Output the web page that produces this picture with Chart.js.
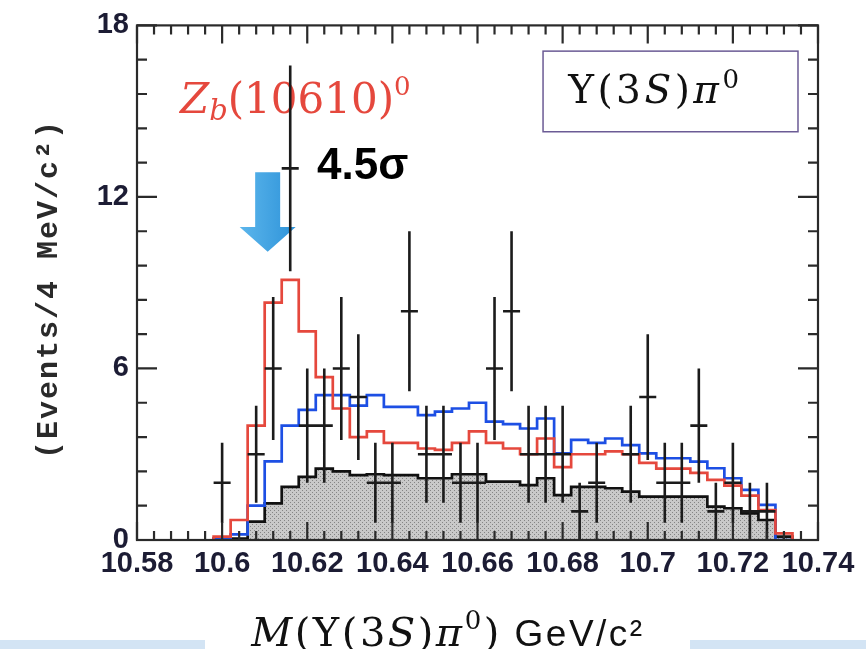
<!DOCTYPE html>
<html>
<head>
<meta charset="utf-8">
<script src="https://cdn.jsdelivr.net/npm/chart.js@4/dist/chart.umd.min.js"></script>
<style>
  html, body { margin: 0; padding: 0; background: #fff; }
  #wrap { position: relative; width: 866px; height: 649px; overflow: hidden; background: #fff; }
  .band { position: absolute; bottom: 0; height: 9px; background: #d3e4f4; }
  #myChart { position: absolute; left: 0; top: 0; }
</style>
</head>
<body>
<div id="wrap">
  <div class="band" style="left:0;width:205px"></div>
  <div class="band" style="left:690px;width:176px"></div>
  <canvas id="myChart" width="866" height="649"></canvas>
</div>
<script>
// bins of 4 MeV, centres in GeV
const binCenters = [10.600, 10.604, 10.608, 10.612, 10.616, 10.620, 10.624, 10.628, 10.632, 10.636,
                    10.640, 10.644, 10.648, 10.652, 10.656, 10.660, 10.664, 10.668, 10.672, 10.676,
                    10.680, 10.684, 10.688, 10.692, 10.696, 10.700, 10.704, 10.708, 10.712, 10.716,
                    10.720, 10.724, 10.728, 10.732];
const binWidth = 0.004;

// data points (null = empty bin) and their errors
const dataCounts = [2, null, 3, 6, 13, 4, 4, 6, 5, 2,
                    2, 8, 3, 3, 2, 2, 6, 8, 3, 3,
                    3, 1, 2, null, 3, 5, 2, 2, 4, 1,
                    2, 1, 1, null];
const dataErrors = [1.4, 0, 1.7, 2.5, 3.6, 2.0, 2.0, 2.5, 2.2, 1.4,
                    1.4, 2.8, 1.7, 1.7, 1.4, 1.4, 2.5, 2.8, 1.7, 1.7,
                    1.7, 1.0, 1.4, 0, 1.7, 2.2, 1.4, 1.4, 2.0, 1.0,
                    1.4, 1.0, 1.0, 0];

// red: fit with Zb(10610)
const signalFit = [0.12, 0.7, 4.0, 8.3, 9.1, 7.3, 5.7, 4.6, 3.6, 3.8,
                   3.4, 3.4, 3.2, 3.15, 3.4, 3.8, 3.4, 3.2, 3.0, 3.55,
                   2.55, 3.0, 3.0, 3.1, 3.0, 2.7, 2.5, 2.5, 2.35, 2.1,
                   1.9, 1.55, 1.05, 0.23];
// blue: other fit
const otherFit = [0.03, 0.2, 1.2, 2.75, 4.0, 4.55, 5.07, 5.07, 4.7, 5.07,
                  4.66, 4.66, 4.37, 4.49, 4.6, 4.8, 4.14, 4.05, 3.9, 4.25,
                  3.03, 3.5, 3.4, 3.55, 3.32, 3.03, 2.86, 2.86, 2.74, 2.51,
                  2.16, 1.75, 1.23, 0];
// black hatched: background
const background = [0.05, 0.05, 0.64, 1.28, 1.86, 2.21, 2.5, 2.4, 2.27, 2.3,
                    2.27, 2.27, 2.16, 2.16, 2.3, 2.3, 2.04, 2.04, 1.92, 2.16,
                    1.57, 1.86, 1.86, 1.81, 1.69, 1.52, 1.52, 1.52, 1.52, 1.17,
                    1.11, 0.93, 0.70, 0.12];

const xTickValues = [10.58, 10.60, 10.62, 10.64, 10.66, 10.68, 10.70, 10.72, 10.74];
const yTickValues = [0, 6, 12, 18];

function histPoints(values) {
  const half = binWidth / 2;
  const pts = [{x: binCenters[0] - half, y: 0}];
  values.forEach((v, i) => pts.push({x: binCenters[i] - half, y: v}));
  pts.push({x: binCenters[binCenters.length - 1] + half, y: 0});
  return pts;
}

// grey cross-hatch for the background histogram
const pc = document.createElement('canvas');
pc.width = 4; pc.height = 4;
const pctx = pc.getContext('2d');
pctx.fillStyle = '#c9c9c9'; pctx.fillRect(0, 0, 4, 4);
pctx.fillStyle = '#858585';
pctx.fillRect(0, 0, 1, 1); pctx.fillRect(2, 2, 1, 1);
const canvas = document.getElementById('myChart');
const hatch = canvas.getContext('2d').createPattern(pc, 'repeat');

function runsWidth(ctx, runs, spacing) {
  let w = 0;
  ctx.save();
  if ('letterSpacing' in ctx) ctx.letterSpacing = spacing + 'px';
  runs.forEach(r => { ctx.font = r.font; w += ctx.measureText(r.text).width; });
  ctx.restore();
  return w;
}

function drawRuns(ctx, runs, x, y, color, spacing) {
  ctx.save();
  ctx.fillStyle = color;
  ctx.textAlign = 'left';
  ctx.textBaseline = 'alphabetic';
  if ('letterSpacing' in ctx) ctx.letterSpacing = spacing + 'px';
  let cx = x;
  runs.forEach(r => {
    ctx.font = r.font;
    ctx.fillText(r.text, cx, y + (r.dy || 0));
    cx += ctx.measureText(r.text).width;
  });
  ctx.restore();
}

const SERIF = '"DejaVu Serif", "Liberation Serif", serif';

const decor = {
  id: 'decor',
  beforeDatasetsDraw(chart) {
    const {ctx, scales: {x, y}} = chart;

    // Zb(10610)0 label
    drawRuns(ctx, [
      {text: 'Z', font: 'italic 42px ' + SERIF},
      {text: 'b', font: 'italic 29px ' + SERIF, dy: 7},
      {text: '(10610)', font: '42px ' + SERIF},
      {text: '0', font: '26px ' + SERIF, dy: -18}
    ], x.getPixelForValue(10.5901), y.getPixelForValue(14.94), '#e5483d', 0);

    drawRuns(ctx, [{text: '4.5σ', font: 'bold 44px "Liberation Sans", Arial, sans-serif'}],
      x.getPixelForValue(10.6223), y.getPixelForValue(12.61), '#000', 0);

    // blue arrow
    const ax = x.getPixelForValue(10.6107);
    const yTop = y.getPixelForValue(12.86), yHead = y.getPixelForValue(10.95), yTip = y.getPixelForValue(10.08);
    const g = ctx.createLinearGradient(ax - 28, 0, ax + 28, 0);
    g.addColorStop(0, '#5cb6ec');
    g.addColorStop(1, '#2e93d9');
    ctx.save();
    ctx.fillStyle = g;
    ctx.beginPath();
    ctx.moveTo(ax - 12.5, yTop); ctx.lineTo(ax + 12.5, yTop);
    ctx.lineTo(ax + 12.5, yHead); ctx.lineTo(ax + 28, yHead);
    ctx.lineTo(ax, yTip);
    ctx.lineTo(ax - 28, yHead); ctx.lineTo(ax - 12.5, yHead);
    ctx.closePath();
    ctx.fill();
    ctx.restore();

    // legend box
    const bx0 = x.getPixelForValue(10.6754), bx1 = x.getPixelForValue(10.7353);
    const by0 = y.getPixelForValue(17.10), by1 = y.getPixelForValue(14.28);
    ctx.save();
    ctx.strokeStyle = '#6b5b95';
    ctx.lineWidth = 1.5;
    ctx.strokeRect(bx0, by0, bx1 - bx0, by1 - by0);
    ctx.restore();
    drawRuns(ctx, [
      {text: 'Υ(3', font: '39px ' + SERIF},
      {text: 'S', font: 'italic 39px ' + SERIF},
      {text: ')', font: '39px ' + SERIF},
      {text: 'π', font: 'italic 39px ' + SERIF},
      {text: '0', font: '26px ' + SERIF, dy: -15}
    ], x.getPixelForValue(10.6813), y.getPixelForValue(15.29), '#111', 3.5);
  },
  afterDatasetsDraw(chart) {
    const {ctx, chartArea: a, scales: {x, y}} = chart;
    const meta = chart.getDatasetMeta(3);
    const half = binWidth / 2;

    // error bars of the data points
    ctx.save();
    ctx.strokeStyle = '#1b1b1b';
    ctx.lineWidth = 2.6;
    ctx.beginPath();
    meta.data.forEach((pt, i) => {
      const raw = chart.data.datasets[3].data[i];
      const px = pt.x, py = pt.y;
      ctx.moveTo(px, y.getPixelForValue(raw.y - raw.e));
      ctx.lineTo(px, y.getPixelForValue(raw.y + raw.e));
      ctx.moveTo(x.getPixelForValue(raw.x - half), py);
      ctx.lineTo(x.getPixelForValue(raw.x + half), py);
    });
    ctx.stroke();
    ctx.restore();

    // frame with inward ticks on all four sides
    ctx.save();
    ctx.strokeStyle = '#2a2a2a';
    ctx.lineWidth = 2.2;
    ctx.strokeRect(a.left, a.top, a.right - a.left, a.bottom - a.top);
    ctx.beginPath();
    for (let k = 0; k <= 40; k++) {
      const px = x.getPixelForValue(10.58 + k * 0.004);
      const len = k % 5 === 0 ? 18 : 9;
      ctx.moveTo(px, a.bottom); ctx.lineTo(px, a.bottom - len);
      ctx.moveTo(px, a.top); ctx.lineTo(px, a.top + len);
    }
    for (let k = 0; k <= 15; k++) {
      const py = y.getPixelForValue(k * 1.2);
      const len = k % 5 === 0 ? 20 : 10;
      ctx.moveTo(a.left, py); ctx.lineTo(a.left + len, py);
      ctx.moveTo(a.right, py); ctx.lineTo(a.right - len, py);
    }
    ctx.stroke();
    ctx.restore();
  },
  afterDraw(chart) {
    const {ctx} = chart;
    // x axis title
    const runs = [
      {text: 'M', font: 'italic 40px ' + SERIF},
      {text: '(Υ(3', font: '40px ' + SERIF},
      {text: 'S', font: 'italic 40px ' + SERIF},
      {text: ')', font: '40px ' + SERIF},
      {text: 'π', font: 'italic 40px ' + SERIF},
      {text: '0', font: '26px ' + SERIF, dy: -17},
      {text: ')', font: '40px ' + SERIF},
      {text: ' GeV/c²', font: '37px "Liberation Sans", Arial, sans-serif'}
    ];
    const w = runsWidth(ctx, runs, 2.5);
    drawRuns(ctx, runs, 448 - w / 2, 646, '#111', 2.5);

    // y axis title
    ctx.save();
    ctx.translate(49, 289);
    ctx.rotate(-Math.PI / 2);
    ctx.font = 'bold 30px "Liberation Mono", "DejaVu Sans Mono", monospace';
    if ('letterSpacing' in ctx) ctx.letterSpacing = '2px';
    ctx.fillStyle = '#2a2a2a';
    ctx.textAlign = 'center';
    ctx.textBaseline = 'middle';
    ctx.fillText('(Events/4 MeV/c²)', 0, 0);
    ctx.restore();
  }
};

new Chart(canvas, {
  type: 'line',
  data: {
    datasets: [
      {
        label: 'Zb fit',
        data: histPoints(signalFit),
        borderColor: '#e5483d',
        borderWidth: 2.7,
        stepped: 'before',
        pointRadius: 0,
        fill: false
      },
      {
        label: 'other fit',
        data: histPoints(otherFit),
        borderColor: '#1d4fe4',
        borderWidth: 2.7,
        stepped: 'before',
        pointRadius: 0,
        fill: false
      },
      {
        label: 'background',
        data: histPoints(background),
        borderColor: '#111',
        borderWidth: 2.7,
        backgroundColor: hatch,
        stepped: 'before',
        pointRadius: 0,
        fill: 'origin'
      },
      {
        label: 'data',
        data: binCenters.map((c, i) => ({x: c, y: dataCounts[i], e: dataErrors[i]}))
                        .filter(p => p.y !== null),
        showLine: false,
        pointRadius: 0,
        borderColor: '#1b1b1b'
      }
    ]
  },
  options: {
    responsive: false,
    animation: false,
    devicePixelRatio: 1,
    layout: { padding: { top: 22, right: 48, left: 0, bottom: 0 } },
    plugins: { legend: { display: false }, tooltip: { enabled: false } },
    scales: {
      x: {
        type: 'linear',
        min: 10.58,
        max: 10.74,
        grid: { display: false, drawTicks: false },
        border: { display: false },
        afterFit: (s) => { s.height = 109; },
        afterBuildTicks: (s) => { s.ticks = xTickValues.map(v => ({value: v})); },
        ticks: {
          padding: 7,
          color: '#1c1c34',
          maxRotation: 0,
          autoSkip: false,
          font: { family: "'Liberation Sans Narrow', 'Liberation Sans', Arial, sans-serif", size: 29, weight: 'bold' },
          callback: (v) => Number(v.toFixed(2)).toString()
        }
      },
      y: {
        min: 0,
        max: 18,
        grid: { display: false, drawTicks: false },
        border: { display: false },
        afterFit: (s) => { s.width = 137; },
        afterBuildTicks: (s) => { s.ticks = yTickValues.map(v => ({value: v})); },
        ticks: {
          padding: 8,
          color: '#1c1c34',
          font: { family: "'Liberation Sans', Arial, sans-serif", size: 29, weight: 'bold' }
        }
      }
    }
  },
  plugins: [decor]
});
</script>
</body>
</html>
